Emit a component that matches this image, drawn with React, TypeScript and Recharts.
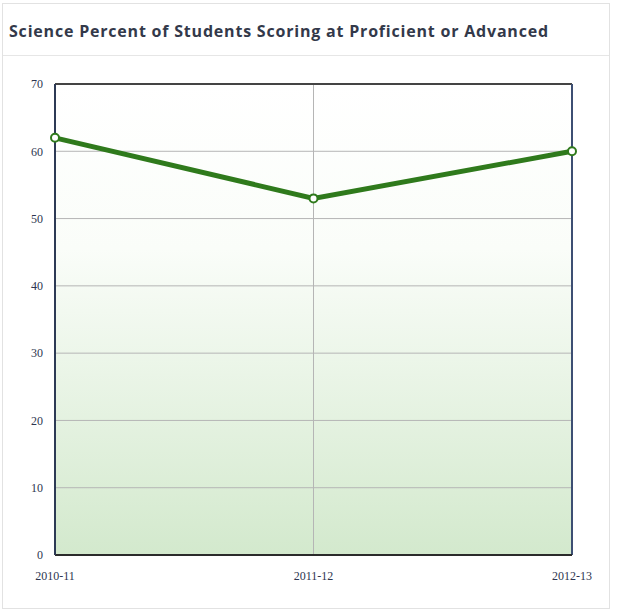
import React from "react";
import { LineChart, Line, XAxis, YAxis, CartesianGrid, ReferenceLine } from "recharts";

const years = ["2010-11", "2011-12", "2012-13"];
const percentProficient = [62, 53, 60];
const yTicks = [0, 10, 20, 30, 40, 50, 60, 70];

const data = years.map((year, i) => ({ year, value: percentProficient[i] }));

export default function App() {
  return (
    <div style={{ position: "absolute", left: 0, top: 0, width: 620, height: 614, background: "#fff" }}>
      <div
        style={{
          position: "absolute",
          left: 2,
          top: 3,
          width: 606,
          height: 604,
          border: "1px solid #e2e2e2",
        }}
      />
      <div
        style={{
          position: "absolute",
          left: 3,
          top: 55,
          width: 606,
          borderTop: "1px solid #e6e6e6",
        }}
      />
      <div
        style={{
          position: "absolute",
          left: 9,
          top: 20,
          fontFamily: "'Open Sans', sans-serif",
          fontWeight: 700,
          fontSize: 16,
          color: "#33394a",
          letterSpacing: 0.8,
          whiteSpace: "nowrap",
        }}
      >
        Science Percent of Students Scoring at Proficient or Advanced
      </div>
      <div style={{ position: "absolute", left: 0, top: 0 }}>
        <LineChart width={620} height={614} data={data} margin={{ top: 84, right: 48, bottom: 29, left: 10 }}>
          <defs>
            <linearGradient id="plotFill" x1="0" y1="0" x2="0" y2="1">
              <stop offset="0%" stopColor="#ffffff" />
              <stop offset="35%" stopColor="#fafdf9" />
              <stop offset="100%" stopColor="#d3e9cd" />
            </linearGradient>
          </defs>
          <CartesianGrid
            fill="url(#plotFill)"
            stroke="#b5b5b5"
            strokeWidth={1}
            vertical={true}
            horizontal={true}
          />
          <XAxis
            dataKey="year"
            axisLine={{ stroke: "#2b2b2b", strokeWidth: 2 }}
            tickLine={false}
            tick={{ fontFamily: "'Liberation Serif', serif", fontSize: 12, fill: "#2d3550" }}
            height={30}
            tickMargin={10}
            interval={0}
            padding={{ left: 0, right: 0 }}
          />
          <YAxis
            domain={[0, 70]}
            ticks={yTicks}
            axisLine={{ stroke: "#2d3a55", strokeWidth: 2 }}
            tickLine={false}
            tick={{ fontFamily: "'Liberation Serif', serif", fontSize: 12, fill: "#2d3550" }}
            width={45}
            tickMargin={6}
          />
          <ReferenceLine y={70} stroke="#444444" strokeWidth={2} />
          <ReferenceLine x="2012-13" stroke="#3d4f73" strokeWidth={2} />
          <Line
            dataKey="value"
            stroke="#2f7a1c"
            strokeWidth={5}
            dot={{ r: 4, fill: "#ffffff", stroke: "#2f7a1c", strokeWidth: 2 }}
            isAnimationActive={false}
          />
        </LineChart>
      </div>
    </div>
  );
}
